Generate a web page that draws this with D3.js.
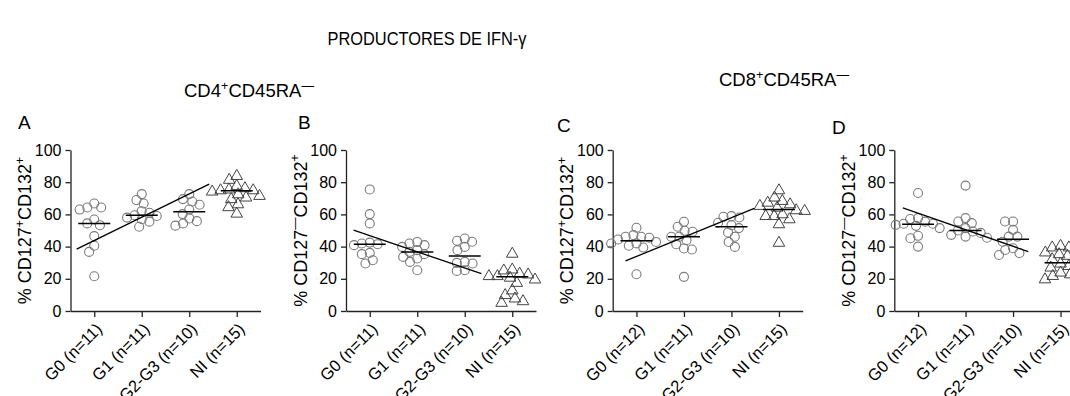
<!DOCTYPE html>
<html>
<head>
<meta charset="utf-8">
<script src="https://cdn.jsdelivr.net/npm/d3@7"></script>
<style>
  body { margin: 0; background: #fff; }
  svg { display: block; }
  text { font-family: Arial, "Liberation Sans", sans-serif; fill: #000; }
</style>
</head>
<body>
<svg id="chart" width="1070" height="396"></svg>
<script>
// Group labels
const categoriesAB = ["G0 (n=11)", "G1 (n=11)", "G2-G3 (n=10)", "NI (n=15)"];
const categoriesCD = ["G0 (n=12)", "G1 (n=11)", "G2-G3 (n=10)", "NI (n=15)"];
const yTicks = [0, 20, 40, 60, 80, 100];

// % CD127+CD132+ within CD4+CD45RA- (one array per group)
const valuesA = [
  [66.8, 64.3, 64.3, 63, 56.8, 54.4, 53.3, 46.5, 40.5, 36.7, 21.6],
  [72.6, 68.9, 66.8, 62, 61, 59.5, 59, 58, 57, 55.5, 52.3],
  [72.6, 69.5, 68, 66, 63, 60.2, 57.5, 55.8, 54.4, 53],
  [84.4, 82, 78.2, 76.8, 76, 75.5, 75.5, 74.7, 73, 72, 71, 70, 66.8, 65, 61]
];
// % CD127-CD132+ within CD4+CD45RA-
const valuesB = [
  [75.5, 60.2, 54.4, 42.5, 41.9, 41.5, 40.9, 36.1, 35.3, 31.5, 29.5],
  [42.9, 41.9, 40.9, 39.8, 37.8, 36.7, 35.3, 33.6, 32.6, 30.5, 25.3],
  [45, 43.6, 43, 39.8, 37.8, 30.5, 29.9, 29.5, 25.3, 24.9],
  [36.1, 26.3, 25.7, 23.7, 23.2, 22.2, 22.2, 21.2, 20.1, 18, 13.3, 10.4, 8.3, 6.6, 5.6]
];
// % CD127+CD132+ within CD8+CD45RA-
const valuesC = [
  [51.7, 47.1, 46.1, 46.1, 45.5, 44.4, 42.9, 42, 41.9, 40.5, 39.4, 22.8],
  [55.4, 52.3, 49.8, 49.2, 46.1, 46.1, 44, 41.5, 38.8, 38.2, 21.2],
  [58.9, 58.5, 58.1, 54.8, 53.3, 51.5, 48.8, 46.1, 42.9, 39.8],
  [75.5, 71, 68.9, 67.8, 66.8, 65.8, 64.7, 63.1, 62.7, 60.6, 59.5, 59.5, 57.5, 54.4, 42.9]
];
// % CD127-CD132+ within CD8+CD45RA-
const valuesD = [
  [73.3, 57.7, 57.1, 55.5, 54.2, 54.2, 53.5, 52.9, 51.5, 46.7, 45.2, 40],
  [77.9, 57.7, 55.6, 54.6, 51.5, 50, 49.4, 48.5, 47.3, 46.2, 45.5],
  [55.6, 55.6, 50.4, 46.2, 46.2, 43, 39, 37.9, 36, 34.8],
  [41, 40, 40, 36.9, 35.8, 34.8, 32.7, 30, 28.5, 27.5, 27.5, 24.4, 23.3, 22.3, 20.2]
];

// Trend lines over G0..G2-G3: group-index span and fitted values at both ends
const trendSpanA = [-0.37, 2.42], trendA = [38.4, 78.8];
const trendSpanB = [-0.34, 2.35], trendB = [50.2, 23.2];
const trendSpanC = [-0.23, 2.48], trendC = [31.1, 63.7];
const trendSpanD = [-0.32, 2.32], trendD = [64.0, 36.9];

const svg = d3.select("#chart");

// Text with raised superscripts; parts: [text, isSup]
function richText(sel, parts, size) {
  let raised = false;
  parts.forEach(([t, sup]) => {
    const ts = sel.append("tspan").text(t);
    if (sup) {
      ts.attr("font-size", size * 0.68).attr("dy", raised ? 0 : -size * 0.4);
      raised = true;
    } else {
      if (raised) ts.attr("dy", size * 0.4);
      raised = false;
    }
  });
}

// Figure title and population headers
svg.append("text").attr("x", 427).attr("y", 45).attr("text-anchor", "middle")
  .attr("font-size", 18).attr("textLength", 199).attr("lengthAdjust", "spacingAndGlyphs")
  .text("PRODUCTORES DE IFN-\u03b3");
richText(svg.append("text").attr("x", 184).attr("y", 97).attr("font-size", 18.5),
  [["CD4"], ["+", 1], ["CD45RA"], ["\u2014", 1]], 18.5);
richText(svg.append("text").attr("x", 719).attr("y", 86).attr("font-size", 18.5),
  [["CD8"], ["+", 1], ["CD45RA"], ["\u2014", 1]], 18.5);

const labelPos = [["% CD127"], ["+", 1], ["CD132"], ["+", 1]];
const labelNeg = [["% CD127"], ["\u2014", 1], ["CD132"], ["+", 1]];

const panels = [
  { letter: "A", lx: 18, ly: 129, left: 70.5, cats: categoriesAB, values: valuesA, span: trendSpanA, trend: trendA, label: labelPos },
  { letter: "B", lx: 298, ly: 129, left: 346, cats: categoriesAB, values: valuesB, span: trendSpanB, trend: trendB, label: labelNeg },
  { letter: "C", lx: 557, ly: 132, left: 612.7, cats: categoriesCD, values: valuesC, span: trendSpanC, trend: trendC, label: labelPos },
  { letter: "D", lx: 832, ly: 134, left: 894.3, cats: categoriesCD, values: valuesD, span: trendSpanD, trend: trendD, label: labelNeg }
];

const plotTop = 150, plotBottom = 311, plotW = 190;
const y = d3.scaleLinear().domain([0, 100]).range([plotBottom, plotTop]);

// Spread points horizontally so that markers at similar heights do not pile up
function swarm(vals, diam) {
  const pts = vals.map(v => ({ v, py: y(v) })).sort((a, b) => a.py - b.py);
  const placed = [];
  pts.forEach(p => {
    const blocked = [];
    placed.forEach(q => {
      const dy = Math.abs(q.py - p.py);
      if (dy < diam) {
        const w = Math.sqrt(diam * diam - dy * dy);
        blocked.push([q.dx - w, q.dx + w]);
      }
    });
    const cands = [0];
    blocked.forEach(([a, b]) => cands.push(a, b));
    cands.sort((a, b) => Math.abs(a) - Math.abs(b) || a - b);
    p.dx = cands.find(c => blocked.every(([a, b]) => c <= a + 1e-6 || c >= b - 1e-6));
    placed.push(p);
  });
  return placed;
}

const triangle = d3.symbol().type(d3.symbolTriangle).size(58);

panels.forEach(p => {
  const g = svg.append("g");
  const x = d3.scalePoint().domain(p.cats).range([p.left, p.left + plotW]).padding(0.5);
  const xi = i => x(p.cats[0]) + i * x.step();

  // panel letter
  g.append("text").attr("x", p.lx).attr("y", p.ly).attr("font-size", 19).text(p.letter);

  // y axis
  const ya = g.append("g").attr("transform", `translate(${p.left},0)`)
    .call(d3.axisLeft(y).tickValues(yTicks).tickSize(5).tickPadding(4).tickSizeOuter(0));
  ya.selectAll("text").attr("font-size", 16).attr("fill", "#000");

  // x axis
  const xa = g.append("g").attr("transform", `translate(0,${plotBottom})`)
    .call(d3.axisBottom(x).tickSize(6).tickSizeOuter(0).tickFormat(""));
  [ya, xa].forEach(a => {
    a.select(".domain").attr("stroke", "#222").attr("stroke-width", 1.3);
    a.selectAll(".tick line").attr("stroke", "#222").attr("stroke-width", 1.3);
  });

  // rotated group labels
  g.selectAll(".xl").data(p.cats).join("text")
    .attr("class", "xl")
    .attr("font-size", 16.5)
    .attr("text-anchor", "end")
    .attr("transform", d => `translate(${x(d) + 9},330) rotate(-45)`)
    .text(d => d);

  // y axis title
  richText(g.append("text")
    .attr("font-size", 18)
    .attr("text-anchor", "middle")
    .attr("transform", `translate(${p.left - 39.5},${(plotTop + plotBottom) / 2}) rotate(-90)`),
    p.label, 18);

  // points
  p.values.forEach((vals, gi) => {
    const cx = x(p.cats[gi]);
    const pts = swarm(vals, gi === 3 ? 8.5 : 8);
    if (gi < 3) {
      g.selectAll(null).data(pts).join("circle")
        .attr("cx", d => cx + d.dx).attr("cy", d => d.py).attr("r", 4.5)
        .attr("fill", "none").attr("stroke", "#7a7a7a").attr("stroke-width", 1.1);
    } else {
      g.selectAll(null).data(pts).join("path")
        .attr("d", triangle)
        .attr("transform", d => `translate(${cx + d.dx},${d.py + 1})`)
        .attr("fill", "none").attr("stroke", "#444").attr("stroke-width", 1);
    }
    // median bar
    const m = d3.median(vals);
    g.append("line")
      .attr("x1", cx - 16).attr("x2", cx + 16)
      .attr("y1", y(m)).attr("y2", y(m))
      .attr("stroke", "#000").attr("stroke-width", 1.5);
  });

  // trend line
  g.append("line")
    .attr("x1", xi(p.span[0])).attr("y1", y(p.trend[0]))
    .attr("x2", xi(p.span[1])).attr("y2", y(p.trend[1]))
    .attr("stroke", "#000").attr("stroke-width", 1.3);
});
</script>
</body>
</html>
